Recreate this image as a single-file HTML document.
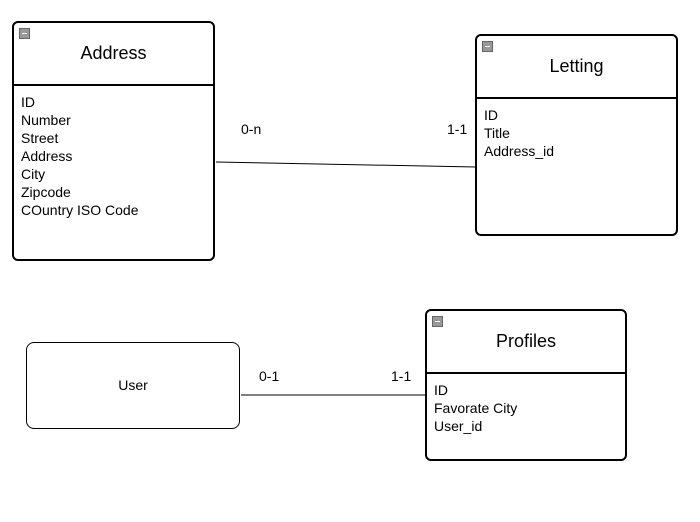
<!DOCTYPE html>
<html><head><style>
body{margin:0;width:700px;height:522px;background:#fff;position:relative;font-family:"Liberation Sans",Arial,sans-serif;overflow:hidden}
.box{position:absolute;border:2px solid #000;border-radius:6px;box-sizing:border-box;background:#fff}
.hd{position:absolute;left:0;right:0;top:0;border-bottom:2px solid #000;text-align:center;font-size:18px}
.ic{position:absolute;left:5px;top:5px;width:11px;height:11px;background:#999;border:1px solid #666;box-sizing:border-box}
.ic:after{content:"";position:absolute;left:2px;right:2px;top:4px;height:1px;background:#fff}
.bd{position:absolute;left:7px;font-size:14px;line-height:18px}
.lbl{position:absolute;font-size:14px}
</style></head><body>
<svg style="position:absolute;left:0;top:0" width="700" height="522">
<line x1="216" y1="162" x2="476" y2="167" stroke="#000" stroke-width="1"/>
<line x1="241" y1="395" x2="426" y2="395" stroke="#000" stroke-width="1"/>
</svg>
<div class="box" style="left:12px;top:21px;width:203px;height:240px">
<div class="hd" style="height:61px;line-height:60px">Address</div><div class="ic"></div>
<div class="bd" style="top:70px">ID<br>Number<br>Street<br>Address<br>City<br>Zipcode<br>COuntry ISO Code</div></div>
<div class="box" style="left:475px;top:34px;width:203px;height:202px">
<div class="hd" style="height:61px;line-height:60px">Letting</div><div class="ic"></div>
<div class="bd" style="top:70px">ID<br>Title<br>Address_id</div></div>
<div class="box" style="left:425px;top:309px;width:202px;height:152px">
<div class="hd" style="height:61px;line-height:60px">Profiles</div><div class="ic"></div>
<div class="bd" style="top:70px">ID<br>Favorate City<br>User_id</div></div>
<div class="box" style="left:26px;top:342px;width:214px;height:87px;border-width:1px;border-radius:8px;text-align:center;line-height:85px;font-size:14px">User</div>
<div class="lbl" style="left:241px;top:121px">0-n</div>
<div class="lbl" style="left:447px;top:121px">1-1</div>
<div class="lbl" style="left:259px;top:368px">0-1</div>
<div class="lbl" style="left:391px;top:368px">1-1</div>
</body></html>
